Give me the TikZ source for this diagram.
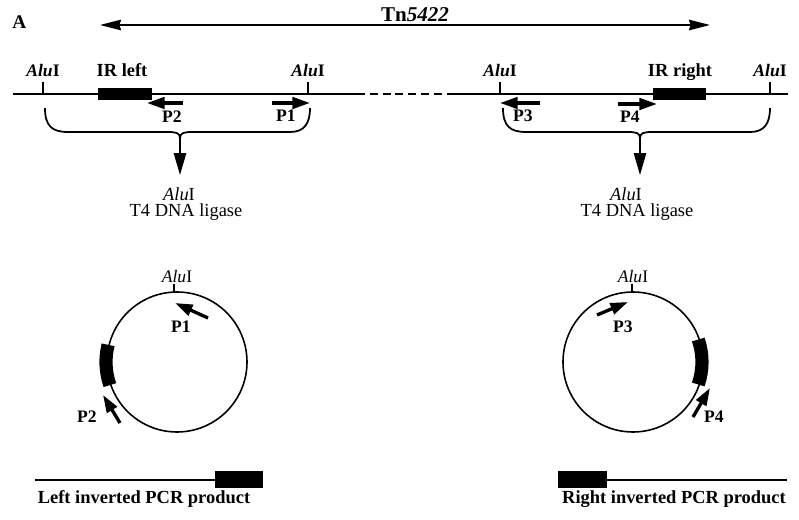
\documentclass[tikz,border=0pt]{standalone}
\usepackage{fontspec}
\setmainfont{Liberation Serif}
\usetikzlibrary{arrows.meta}

\newcommand{\alusite}{\textbf{\textit{Alu}I}}
\newcommand{\aluplain}{\textit{Alu}I}

\begin{document}
\begin{tikzpicture}[x=0.02cm,y=-0.02cm,
  dna/.style={line width=1.4pt},
  ring/.style={line width=0.9pt},
  irarc/.style={line width=7.5pt},
  primer/.style={line width=1.9pt,-{Triangle[length=10pt,width=6.5pt]}},
  brace/.style={line width=1pt},
  down/.style={line width=1pt,-{Triangle[length=12.5pt,width=7pt]}},
  boldlbl/.style={font=\fontsize{10}{12}\selectfont\bfseries,anchor=base,inner sep=0pt},
  notelbl/.style={font=\fontsize{10.5}{12}\selectfont,anchor=base,inner sep=0pt},
  prodlbl/.style={font=\fontsize{10.5}{12}\selectfont\bfseries,anchor=base,inner sep=0pt}]
\useasboundingbox (0,0) rectangle (799,520);

\node[font=\fontsize{11}{13}\selectfont\bfseries,anchor=base west,inner sep=0pt] (panel) at (12,29) {A};

\coordinate (tnL) at (100,25);
\coordinate (tnR) at (710,25);
\draw[line width=1pt,{Stealth[length=12pt,width=6pt,inset=1pt]}-{Stealth[length=12pt,width=6pt,inset=1pt]}] (tnL) -- (tnR);
\node[font=\fontsize{12}{14}\selectfont\bfseries,anchor=base,inner sep=0pt] (tn) at (415,22) {Tn\textit{5422}};

\coordinate (endL) at (13,94);
\coordinate (gapL) at (357,94);
\coordinate (gapR) at (448,94);
\coordinate (endR) at (788,94);
\draw[dna] (endL) -- (gapL);
\draw[dna,dash pattern=on 4.5pt off 2.8pt] (gapL) -- (gapR);
\draw[dna] (gapR) -- (endR);

\foreach \x/\n in {43/aluA,308/aluB,500/aluC,770/aluD} {
  \draw[line width=0.8pt] (\x,94) -- (\x,82);
  \node[boldlbl] (\n) at (\x,77) {\alusite};
}

\fill (98,88) rectangle (152,100);
\node[font=\fontsize{10.5}{12}\selectfont\bfseries,anchor=base,inner sep=0pt] (irL) at (122,77) {IR left};
\fill (653,88) rectangle (706,100);
\node[font=\fontsize{10.5}{12}\selectfont\bfseries,anchor=base,inner sep=0pt] (irR) at (680,77) {IR right};

\draw[primer] (183,103) -- (147,103);
\node[boldlbl] (p2) at (172,123) {P2};
\draw[primer] (272,103) -- (310,103);
\node[boldlbl] (p1) at (286,122) {P1};
\draw[primer] (540,103) -- (500,103);
\node[boldlbl] (p3) at (523,122) {P3};
\draw[primer] (618,104) -- (657,104);
\node[boldlbl] (p4) at (630,123) {P4};

\coordinate (cutL) at (180,138);
\coordinate (tipL) at (180,175);
\draw[brace] (45,108) .. controls (45,126) and (52,132) .. (68,132) -- (168,132)
  .. controls (176,132) and (180,133) .. (cutL)
  .. controls (180,133) and (184,132) .. (192,132) -- (290,132)
  .. controls (304,132) and (310,124) .. (310,108);
\draw[down] (cutL) -- (tipL);
\node[notelbl] (digLa) at (179,201) {\aluplain};
\node[notelbl] (digLb) at (186,217) {T4 DNA ligase};

\coordinate (cutR) at (640,138);
\coordinate (tipR) at (640,175);
\draw[brace] (503,108) .. controls (503,126) and (510,132) .. (526,132) -- (628,132)
  .. controls (636,132) and (640,133) .. (cutR)
  .. controls (640,133) and (644,132) .. (652,132) -- (750,132)
  .. controls (764,132) and (770,124) .. (770,108);
\draw[down] (cutR) -- (tipR);
\node[notelbl] (digRa) at (626,201) {\aluplain};
\node[notelbl] (digRb) at (637,217) {T4 DNA ligase};

\coordinate (cL) at (177,362);
\draw[ring] (cL) circle[radius=70];
\draw[line width=0.8pt] (174,292) -- (174,284);
\node[notelbl,font=\fontsize{10}{12}\selectfont] (ringAluL) at (177,283) {\aluplain};
\draw[irarc] ([shift={(161:71)}]cL) arc[start angle=161,end angle=194,radius=71];
\draw[primer] (208,318) -- (175,303);
\node[boldlbl] (rp1) at (181,333) {P1};
\draw[primer] (120,423) -- (103,395);
\node[boldlbl] (rp2) at (87,423) {P2};

\coordinate (cR) at (633,362);
\draw[ring] (cR) circle[radius=70];
\draw[line width=0.8pt] (632,292) -- (632,284);
\node[notelbl,font=\fontsize{10}{12}\selectfont] (ringAluR) at (633,283) {\aluplain};
\draw[irarc] ([shift={(-19:69)}]cR) arc[start angle=-19,end angle=19,radius=69];
\draw[primer] (597,315) -- (628,302);
\node[boldlbl] (rp3) at (623,333) {P3};
\draw[primer] (693,417) -- (710,388);
\node[boldlbl] (rp4) at (714,423) {P4};

\draw[dna] (35,480) -- (215,480);
\fill (215,471) rectangle (263,488);
\node[prodlbl] (prodL) at (144,504) {Left inverted PCR product};

\fill (558,471) rectangle (607,488);
\draw[dna] (607,480) -- (787,480);
\node[prodlbl] (prodR) at (674,504) {Right inverted PCR product};
\end{tikzpicture}
\end{document}
